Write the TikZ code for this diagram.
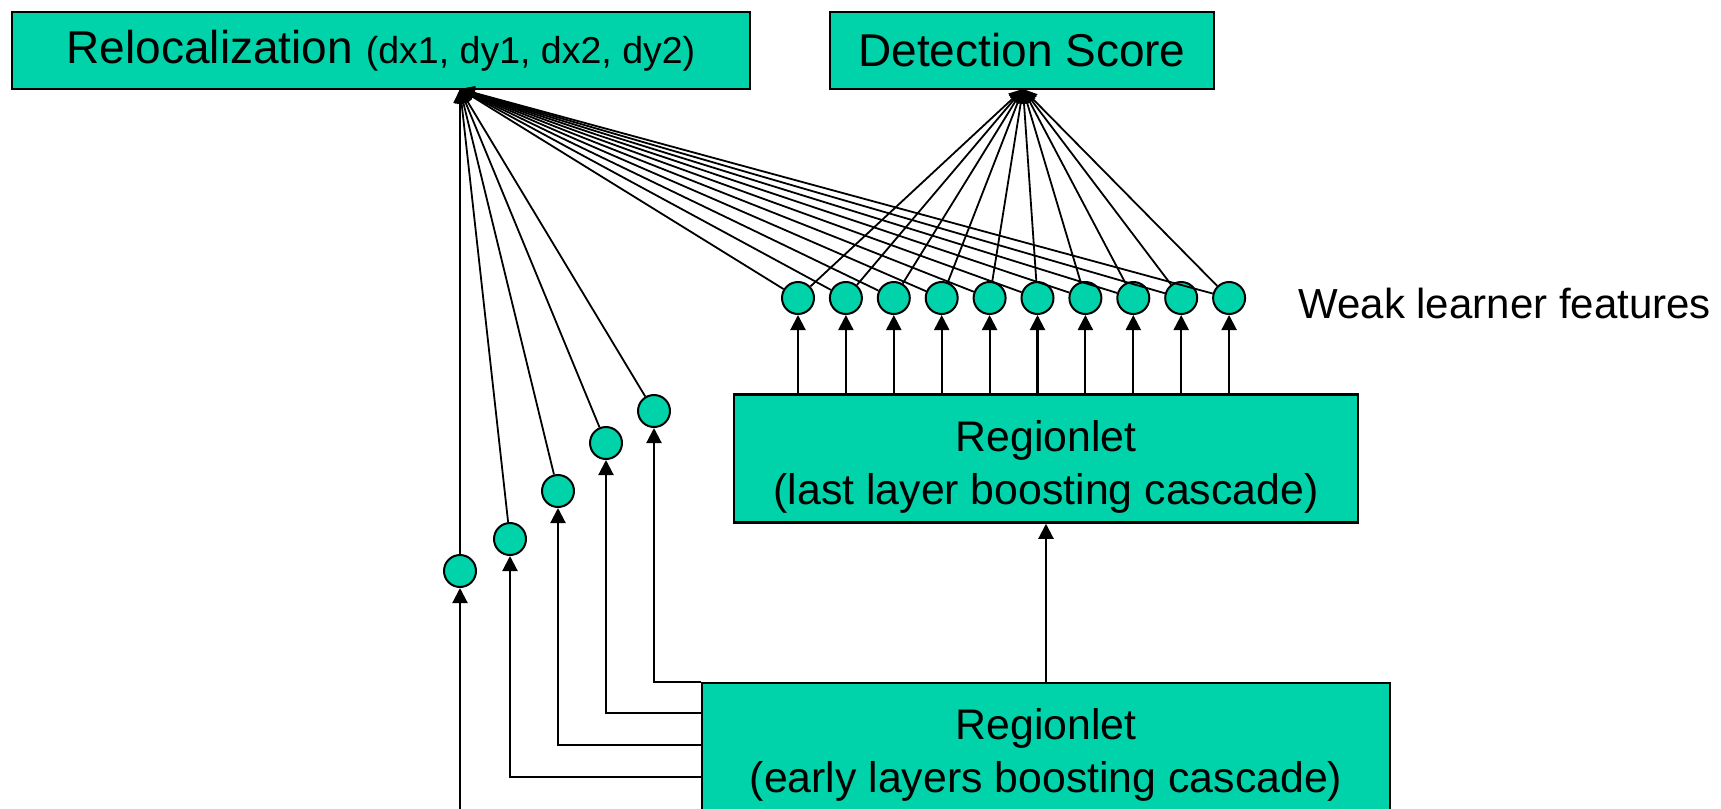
\documentclass[tikz,border=0pt]{standalone}
\usepackage{fontspec}
\setmainfont{Liberation Sans}
\usetikzlibrary{arrows.meta,calc}
\definecolor{boxgreen}{RGB}{0,210,170}

\begin{document}
\begin{tikzpicture}[x=0.5pt,y=-0.5pt,
  box/.style={draw=black,line width=1.25pt,fill=boxgreen,inner sep=0pt,align=center,
              font=\fontsize{21.4}{26.5}\selectfont},
  headbox/.style={box,font=\fontsize{23}{27}\selectfont},
  feat/.style={circle,draw=black,line width=1pt,fill=boxgreen,minimum size=16pt,inner sep=0pt},
  arr/.style={line width=1.05pt,-{Triangle[length=7.5pt,width=7.5pt]}},
  link/.style={line width=0.9pt,-{Triangle[length=7pt,width=6.5pt]}}]

\useasboundingbox (0,0) rectangle (1721,809);
\clip (0,0) rectangle (1721,809);

% output boxes
\node[headbox,minimum width=369pt,minimum height=38.5pt] (reloc) at (381,50.5)
  {Relocalization {\fontsize{18.75}{22}\selectfont (dx1, dy1, dx2, dy2)}};
\node[headbox,minimum width=192pt,minimum height=38.5pt] (det) at (1022,50.5)
  {Detection Score};

% cascade boxes (the strut on the first line sets the text a little low)
\node[box,minimum width=312pt,minimum height=64pt] (last) at (1046,458.5)
  {\rule{0pt}{23.5pt}Regionlet\\(last layer boosting cascade)};
\node[box,minimum width=344pt,minimum height=66pt] (early) at (1046,749)
  {\rule{0pt}{21pt}Regionlet\\(early layers boosting cascade)};

% weak learner features of the last layer
\foreach \i in {0,...,9}
  \node[feat] (w\i) at ({798+47.9*\i},298) {};
\node[anchor=west,inner sep=0pt,font=\fontsize{21}{25}\selectfont] (wlabel) at (1298,303)
  {Weak learner features};

% features of the early layers
\node[feat] (e1) at (460,571) {};
\node[feat] (e2) at (510,539) {};
\node[feat] (e3) at (558,491) {};
\node[feat] (e4) at (606,443) {};
\node[feat] (e5) at (654,411) {};

% convergence points on the output boxes
\coordinate (rtip) at (460,89);
\coordinate (dtip) at (1023,89);

% early cascade -> last cascade
\draw[arr] (early.north) -- (last.south);

% early cascade -> early features (elbows)
\draw[arr] (early.north west) -| (e5);
\draw[arr] ($(early.north west)+(0,31.5)$) -| (e4);
\draw[arr] ($(early.north west)+(0,63.5)$) -| (e3);
\draw[arr] ($(early.north west)+(0,95.5)$) -| (e2);
\draw[arr] ($(early.north west)+(0,180)$) -| (e1);

% last cascade -> weak learner features
\foreach \i in {0,...,9}
  \draw[arr] (w\i |- last.north) -- (w\i);

% features -> outputs
\foreach \i in {0,...,9} {
  \draw[link] (w\i) -- (rtip);
  \draw[link] (w\i) -- (dtip);
}
\foreach \i in {1,...,5}
  \draw[link] (e\i) -- (rtip);

\end{tikzpicture}
\end{document}
